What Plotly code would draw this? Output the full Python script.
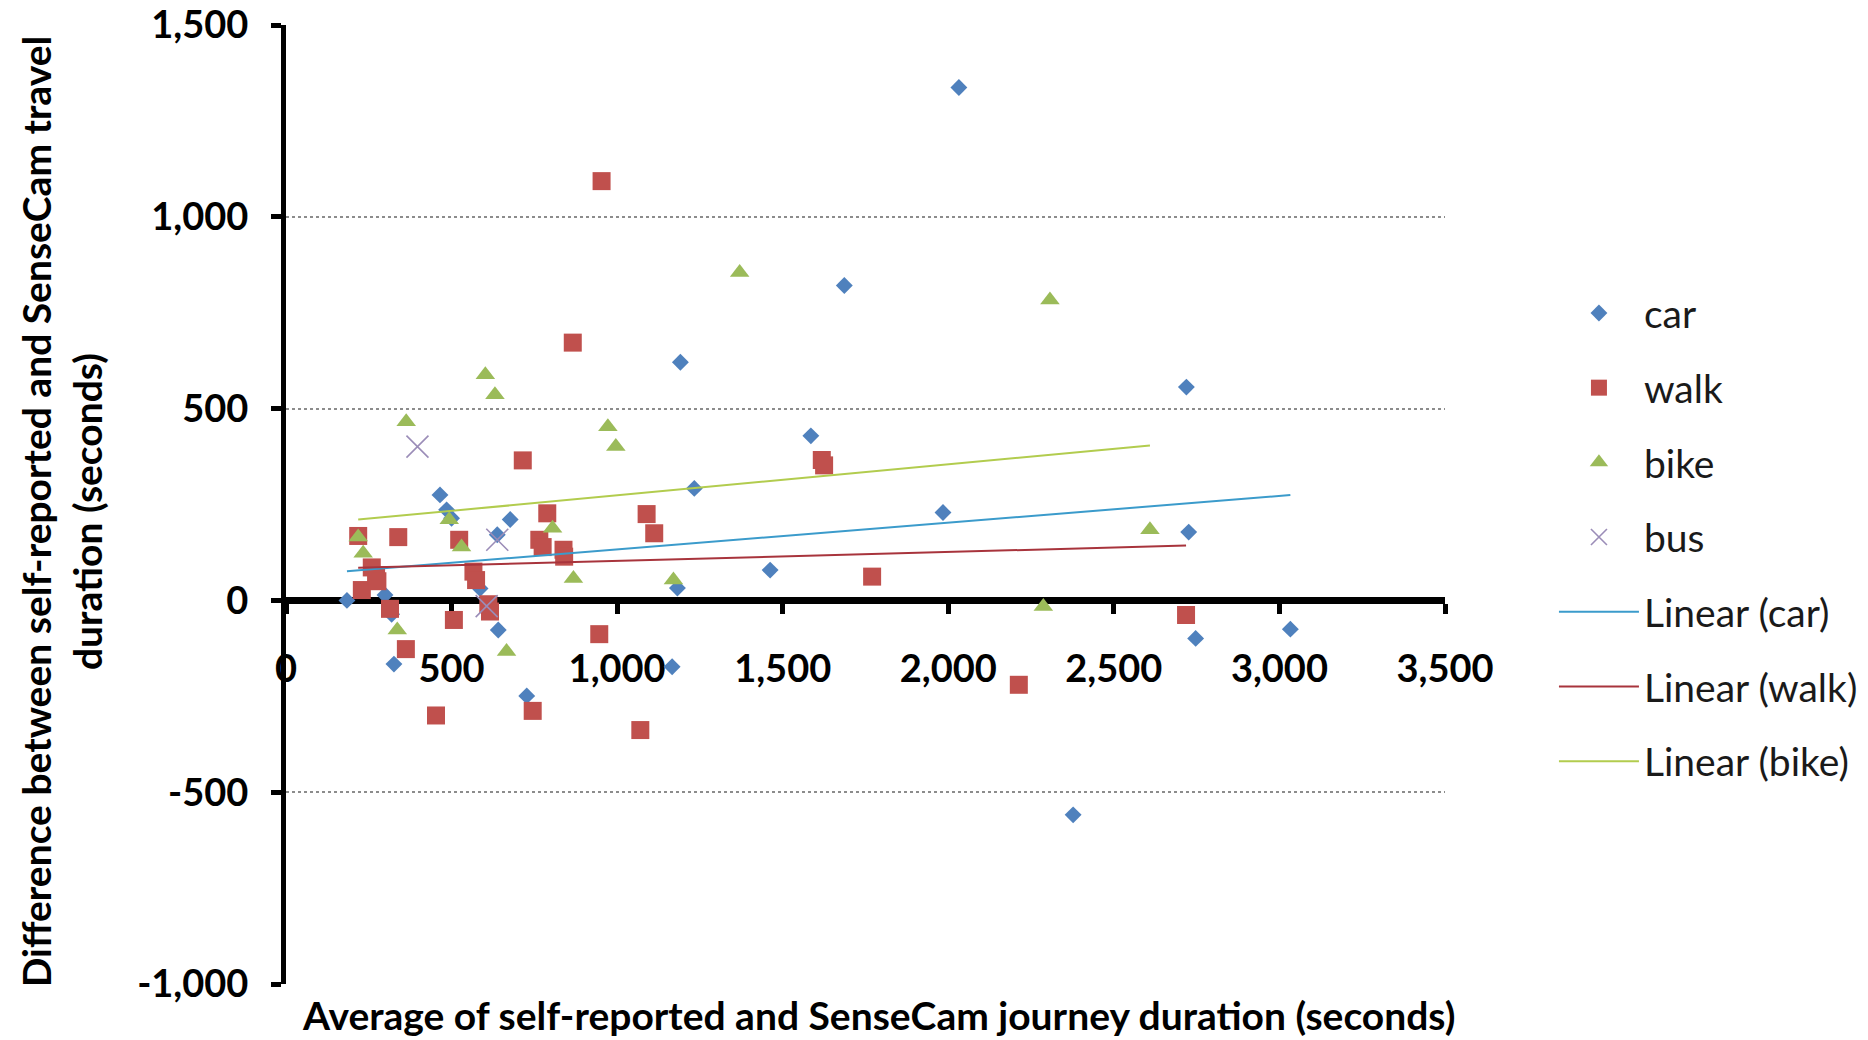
import plotly.graph_objects as go

# ---- data ----
car_x = [184, 299, 319, 326, 465, 485, 500, 586, 638, 641, 677, 727, 1166, 1182, 1191, 1233,
         1462, 1585, 1686, 1984, 2032, 2377, 2719, 2726, 2747, 3033]
car_y = [0, 14, -36, -166, 275, 236, 214, 31, 171, -77, 211, -249, -173, 32, 621, 292,
         79, 429, 821, 229, 1337, -559, 556, 178, -99, -75]

walk_x = [218, 229, 259, 272, 276, 314, 339, 362, 453, 507, 523, 566, 574, 611, 616, 715, 745,
          765, 775, 789, 838, 840, 866, 946, 953, 1070, 1089, 1112, 1618, 1625, 1770, 2213, 2718]
walk_y = [168, 27, 86, 66, 50, -22, 165, -127, -300, -51, 158, 75, 53, -10, -29, 365, -288,
          158, 139, 227, 132, 114, 672, -88, 1093, -338, 225, 175, 366, 352, 62, -220, -38]

bike_x = [218, 233, 336, 363, 493, 530, 602, 631, 666, 805, 868, 972, 996, 1170, 1370, 2287, 2307, 2609]
bike_y = [165, 123, -77, 466, 210, 139, 588, 536, -133, 188, 57, 453, 401, 53, 855, -16, 783, 184]

bus_x = [397, 638, 606]
bus_y = [401, 158, -15]

# linear trendlines: slope, intercept
trend_car = [0.0696, 63.5]
trend_walk = [0.0232, 79.8]
trend_bike = [0.0809, 193.0]

x_ticks = [0, 500, 1000, 1500, 2000, 2500, 3000, 3500]
x_tick_labels = ["0", "500", "1,000", "1,500", "2,000", "2,500", "3,000", "3,500"]
y_ticks = [-1000, -500, 0, 500, 1000, 1500]
y_tick_labels = ["-1,000", "-500", "0", "500", "1,000", "1,500"]

FONT = "Lato"
C_CAR, C_WALK, C_BIKE, C_BUS = "#4F81BD", "#C0504D", "#9BBB59", "#9B8DB8"
C_TCAR, C_TWALK, C_TBIKE = "#3B9BCB", "#A8343C", "#B2CC4E"


def trend(xs, coef):
    lo, hi = min(xs), max(xs)
    return [lo, hi], [coef[0] * lo + coef[1], coef[0] * hi + coef[1]]


fig = go.Figure()
fig.add_trace(go.Scatter(x=car_x, y=car_y, mode="markers", name="car", legendgroup="a", legendrank=1,
                         marker=dict(symbol="diamond", size=13, color=C_CAR, line=dict(width=0))))
fig.add_trace(go.Scatter(x=walk_x, y=walk_y, mode="markers", name="walk", legendgroup="b", legendrank=2,
                         marker=dict(symbol="square", size=18, color=C_WALK, line=dict(width=0))))
fig.add_trace(go.Scatter(x=bike_x, y=bike_y, mode="markers", name="bike", legendgroup="c", legendrank=3,
                         marker=dict(symbol="triangle-up", size=17, color=C_BIKE, line=dict(width=0))))
fig.add_trace(go.Scatter(x=bus_x, y=bus_y, mode="markers", name="bus", legendgroup="d", legendrank=4,
                         marker=dict(symbol="x-thin-open", size=22, color=C_BUS,
                                     line=dict(width=1.6, color=C_BUS))))
for nm, xs, coef, col, g, r in [("Linear (car)", car_x, trend_car, C_TCAR, "e", 5),
                                ("Linear (walk)", walk_x, trend_walk, C_TWALK, "f", 6),
                                ("Linear (bike)", bike_x, trend_bike, C_TBIKE, "g", 7)]:
    tx, ty = trend(xs, coef)
    fig.add_trace(go.Scatter(x=tx, y=ty, mode="lines", name=nm, legendgroup=g, legendrank=r,
                             line=dict(color=col, width=2)))

fig.update_layout(
    width=1868, height=1040,
    margin=dict(l=286, r=423, t=25, b=56, autoexpand=False),
    paper_bgcolor="white", plot_bgcolor="white",
    font=dict(family=FONT, color="black"),
    showlegend=True,
    legend=dict(x=1.094, xanchor="left", y=0.466, yanchor="middle",
                font=dict(family=FONT, size=39, color="#1a1a1a"),
                tracegroupgap=21, bgcolor="rgba(0,0,0,0)", itemwidth=80),
    xaxis=dict(range=[0, 3500], tickvals=x_ticks, ticktext=x_tick_labels,
               anchor="free", position=0.4, showline=True, linewidth=7, linecolor="black",
               ticks="outside", ticklen=10, tickwidth=5, tickcolor="black",
               tickfont=dict(family=FONT, size=38, weight="bold", color="black"),
               ticklabelstandoff=22, ticklabeloverflow="allow",
               showgrid=False, zeroline=False, layer="below traces"),
    yaxis=dict(range=[-1000, 1500], tickvals=y_ticks, ticktext=y_tick_labels,
               showline=True, linewidth=5, linecolor="black",
               ticks="outside", ticklen=10, tickwidth=5, tickcolor="black",
               tickfont=dict(family=FONT, size=38, weight="bold", color="black"),
               ticklabelstandoff=15, ticklabeloverflow="allow",
               showgrid=True, gridcolor="#8c8c8c", griddash="dot", gridwidth=1.5,
               zeroline=False, layer="below traces"),
    annotations=[
        dict(text="Difference between self-reported and SenseCam travel<br>duration (seconds)",
             xref="paper", yref="paper", x=-0.194, y=0.492, xanchor="center", yanchor="middle",
             textangle=-90, showarrow=False,
             font=dict(family=FONT, size=39, weight="bold", color="black")),
        dict(text="Average of self-reported and SenseCam journey duration (seconds)",
             xref="paper", yref="paper", x=0.511, y=-0.058, xanchor="center", yanchor="bottom",
             showarrow=False, font=dict(family=FONT, size=39, weight="bold", color="black")),
    ],
)

fig.write_html("out.html", config={"displayModeBar": False},
               post_script="document.body.style.margin='0';")
